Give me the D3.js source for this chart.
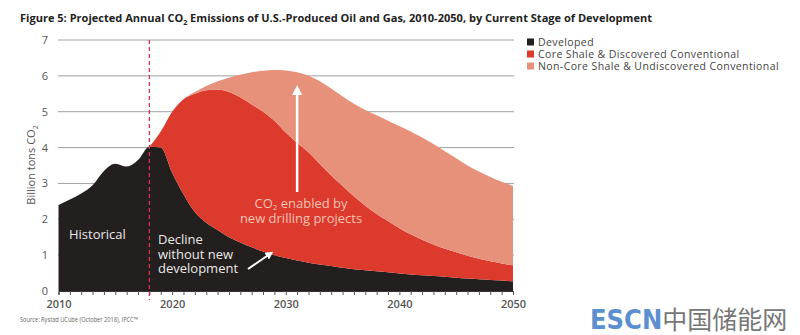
<!DOCTYPE html>
<html><head><meta charset="utf-8">
<script src="https://cdn.jsdelivr.net/npm/d3@7"></script>
<style>
body{margin:0;background:#fff;}
svg{display:block;font-family:"Open Sans","DejaVu Sans",sans-serif;}
</style></head>
<body><svg id="c" width="800" height="335"></svg>
<script>
const years = d3.range(2010, 2051);
const developed = [2.4,2.55,2.72,2.95,3.35,3.55,3.47,3.65,4.02,4.0,3.3,2.7,2.2,1.9,1.7,1.5,1.35,1.22,1.1,1.0,0.92,0.85,0.79,0.74,0.7,0.65,0.61,0.58,0.55,0.52,0.49,0.46,0.44,0.42,0.4,0.37,0.35,0.33,0.31,0.29,0.27];
const coreShale = [0,0,0,0,0,0,0,0,0,0.45,1.7,2.65,3.3,3.7,3.92,4.05,4.05,3.98,3.9,3.75,3.5,3.28,3.08,2.8,2.52,2.28,2.03,1.8,1.6,1.43,1.26,1.12,0.99,0.88,0.78,0.71,0.63,0.57,0.52,0.48,0.45];
const nonCore = [0,0,0,0,0,0,0,0,0,0,0,0,0.05,0.12,0.23,0.4,0.63,0.9,1.14,1.41,1.73,1.97,2.13,2.31,2.43,2.5,2.58,2.67,2.75,2.8,2.85,2.87,2.85,2.8,2.72,2.62,2.52,2.43,2.35,2.28,2.21];
const seriesNames = ["Developed","Core Shale & Discovered Conventional","Non-Core Shale & Undiscovered Conventional"];
const colors = ["#231f1e","#dc3a2c","#e8917a"];
const yTicks = [0,1,2,3,4,5,6,7];
const xLabelYears = [2010,2020,2030,2040,2050];
const startProjection = 2018;

const svg = d3.select("#c");
const x = d3.scaleLinear().domain([2010,2050]).range([58.5,513]);
const y = d3.scaleLinear().domain([0,7]).range([291,40]);

// title
const title = svg.append("text").attr("x",20).attr("y",22).attr("font-size",11).attr("font-weight","bold").attr("fill","#222")
  .attr("textLength",632).attr("lengthAdjust","spacingAndGlyphs");
title.append("tspan").text("Figure 5: Projected Annual CO");
title.append("tspan").text("2").attr("font-size",7).attr("dy",3);
title.append("tspan").text(" Emissions of U.S.-Produced Oil and Gas, 2010-2050, by Current Stage of Development").attr("dy",-3);

// gridlines
svg.append("g").selectAll("line").data(yTicks.filter(d=>d>0)).join("line")
  .attr("x1",58).attr("x2",514).attr("y1",d=>y(d)).attr("y2",d=>y(d))
  .attr("stroke","#a0a0a0").attr("stroke-width",1);

// y tick labels
svg.append("g").selectAll("text").data(yTicks).join("text")
  .attr("x",48).attr("y",d=>y(d)+4).attr("text-anchor","end").attr("font-size",11).attr("fill","#555").text(d=>d);

// stacked areas
const rows = years.map((yr,i)=>({year:yr, a:developed[i], b:coreShale[i], c:nonCore[i]}));
const stack = d3.stack().keys(["a","b","c"]);
const stacked = stack(rows);
const area = d3.area().x(d=>x(d.data.year)).y0(d=>y(d[0])).y1(d=>y(d[1])).curve(d3.curveMonotoneX);
svg.append("g").selectAll("path").data(stacked).join("path")
  .attr("d",(s,i)=> i===0 ? area(s) : area(s.filter(d=>d.data.year>=startProjection)))
  .attr("fill",(s,i)=>colors[i]);

// x axis
const xAxis = d3.axisBottom(x).tickValues(years).tickSize(4).tickFormat(d=>xLabelYears.includes(d)?d:"");
const gx = svg.append("g").attr("transform",`translate(0,${y(0)})`).call(xAxis);
gx.select(".domain").attr("stroke","#333");
gx.selectAll(".tick line").attr("stroke","#555");
gx.selectAll("text").attr("font-size",11).attr("font-weight","600").attr("fill","#555").attr("dy","0.9em")
  .attr("font-family","'Open Sans',sans-serif");

// dashed 2018 line
svg.append("line").attr("x1",x(startProjection)).attr("x2",x(startProjection)).attr("y1",y(7)).attr("y2",y(0)+9)
  .attr("stroke","#d8304f").attr("stroke-width",1.3).attr("stroke-dasharray","4,3");

// y axis label
const yl = svg.append("text").attr("transform","translate(35,165) rotate(-90)").attr("text-anchor","middle").attr("font-size",11).attr("fill","#555");
yl.append("tspan").text("Billion tons CO");
yl.append("tspan").text("2").attr("font-size",7).attr("dy",3);

// annotations
svg.append("text").attr("x",69).attr("y",239).attr("font-size",13).attr("fill","#e8e8e8").text("Historical");
const dl = svg.append("text").attr("font-size",13).attr("fill","#e8e8e8");
["Decline","without new","development"].forEach((t,i)=>dl.append("tspan").attr("x",158).attr("y",244+i*14.5).text(t));

const defs = svg.append("defs");
defs.append("marker").attr("id","ah").attr("viewBox","0 0 10 10").attr("refX",5).attr("refY",5)
  .attr("markerWidth",4).attr("markerHeight",4).attr("orient","auto")
  .append("path").attr("d","M0,0L10,5L0,10Z").attr("fill","#fff");
svg.append("line").attr("x1",248).attr("y1",269).attr("x2",270).attr("y2",254)
  .attr("stroke","#fff").attr("stroke-width",2).attr("marker-end","url(#ah)");
svg.append("line").attr("x1",x(2031)).attr("y1",192).attr("x2",x(2031)).attr("y2",90)
  .attr("stroke","#fff").attr("stroke-width",2.5).attr("marker-end","url(#ah)");

const co = svg.append("text").attr("text-anchor","middle").attr("font-size",13).attr("fill","#f6c2b4");
const l1 = co.append("tspan").attr("x",301).attr("y",208);
l1.append("tspan").text("CO");
l1.append("tspan").text("2").attr("font-size",8).attr("dy",2);
l1.append("tspan").text(" enabled by").attr("dy",-2);
co.append("tspan").attr("x",301).attr("y",223).text("new drilling projects");

// legend
const lg = svg.append("g").selectAll("g").data(seriesNames).join("g")
  .attr("transform",(d,i)=>`translate(527,${38+i*12})`);
lg.append("rect").attr("width",7).attr("height",7).attr("y",0.5).attr("fill",(d,i)=>colors[i]);
lg.append("text").attr("x",11).attr("y",8).attr("font-size",10.5).attr("letter-spacing",0.4).attr("fill","#444").text(d=>d);

// source
svg.append("text").attr("x",20).attr("y",322).attr("font-size",7).attr("fill","#666")
  .attr("textLength",118).attr("lengthAdjust","spacingAndGlyphs").text("Source: Rystad UCube (October 2018), IPCC™");

// watermark
const wm = svg.append("text").attr("x",590).attr("y",329).attr("font-size",27);
wm.append("tspan").text("ESCN").attr("fill","#5b8fcf").attr("font-weight","bold").attr("font-family","'Liberation Sans Narrow','DejaVu Sans Condensed',sans-serif");
wm.append("tspan").text("中国储能网").attr("fill","#777").attr("font-family","'Noto Sans CJK SC'").attr("font-size",25);
</script></body></html>
